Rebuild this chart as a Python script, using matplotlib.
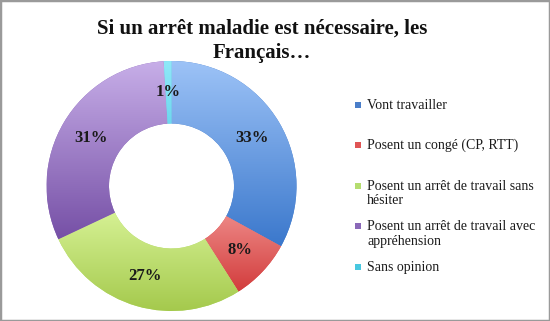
import numpy as np
import matplotlib
matplotlib.use("Agg")
import matplotlib.pyplot as plt
from matplotlib.patches import Rectangle
from matplotlib.colors import LinearSegmentedColormap

title = "Si un arrêt maladie est nécessaire, les\nFrançais…"
categories = ["Vont travailler", "Posent un congé (CP, RTT)",
              "Posent un arrêt de travail sans\nhésiter",
              "Posent un arrêt de travail avec\nappréhension", "Sans opinion"]
values = [33, 8, 27, 31, 1]
top_colors = ["#9DC3F7", "#F7A3A0", "#E2FBA6", "#C7AEE8", "#8FE8F8"]
bottom_colors = ["#3B78CC", "#D23C3C", "#A4C94C", "#7650A6", "#4CC8E4"]
legend_colors = ["#4A7EC9", "#E05555", "#B5DD70", "#8A68B8", "#48C8E0"]

W, H = 550, 321
fig = plt.figure(figsize=(W / 100, H / 100), dpi=100)
fig.patch.set_facecolor("white")

FONT = "Liberation Serif"

# pie axes: center (171.5, 186) px, radius 125 px
cx, cy, R = 171.5, 186, 125
ax = fig.add_axes([(cx - R) / W, (H - cy - R) / H, 2 * R / W, 2 * R / H])
wedges, texts, autotexts = ax.pie(
    values, startangle=90, counterclock=False, radius=1,
    colors=legend_colors, autopct="%1.0f%%", pctdistance=0.75,
    wedgeprops=dict(width=0.5, edgecolor="none"),
    textprops=dict(fontfamily=FONT, fontweight="bold", fontsize=12, color="#1a1a1a"))
ax.set_xlim(-1, 1)
ax.set_ylim(-1, 1)
ax.set_aspect("equal")
ax.axis("off")

grad = np.linspace(0, 1, 256).reshape(-1, 1)
for w, tc, bc in zip(wedges, top_colors, bottom_colors):
    verts = w.get_path().vertices
    x0, y0 = verts.min(axis=0)
    x1, y1 = verts.max(axis=0)
    cmap = LinearSegmentedColormap.from_list("g", [tc, bc])
    im = ax.imshow(grad, cmap=cmap, extent=[x0, x1, y0, y1], origin="upper",
                   aspect="auto", zorder=1, interpolation="bilinear")
    im.set_clip_path(w)
    w.set_zorder(0.5)
for t in autotexts:
    t.set_zorder(3)

fig.text(262 / W, 1 - 41 / H, title, ha="center", va="center", fontfamily=FONT,
         fontweight="bold", fontsize=15, linespacing=1.3, color="#111111",
         multialignment="center")

# legend
leg_y = [105, 145, 186, 226, 267]
for lab, col, y in zip(categories, legend_colors, leg_y):
    fig.patches.append(Rectangle(((355) / W, 1 - (y + 3) / H), 6 / W, 6 / H,
                                 transform=fig.transFigure, facecolor=col,
                                 edgecolor="none", figure=fig))
    fig.text(367 / W, 1 - (y - 6) / H, lab, ha="left", va="top", fontfamily=FONT,
             fontsize=10, color="#1a1a1a", linespacing=1.15)

fig.patches.append(Rectangle((0, 0), 1, 1, transform=fig.transFigure, fill=False,
                             edgecolor="#9a9a9a", linewidth=2.5, figure=fig))

fig.savefig("out.png", dpi=100)
